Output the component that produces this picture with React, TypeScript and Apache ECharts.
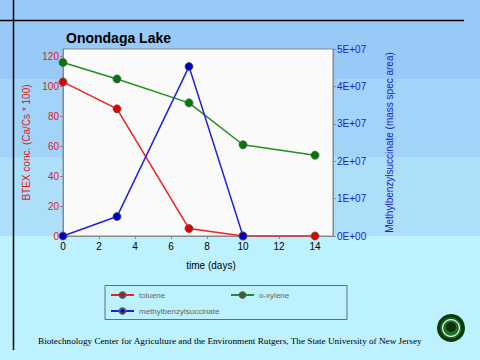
import React, { useEffect, useRef } from "react";
import * as echarts from "echarts";

const days = [0, 3, 7, 10, 14];
const toluene = [103, 85, 5, 0, 0];
const oXylene = [116, 105, 89, 61, 54];
const mbsDays = [0, 3, 7, 10];
const mbs = [0, 5.2e6, 4.53e7, 0];
const footer =
  "Biotechnology Center for Agriculture and the Environment Rutgers, The State University of New Jersey";

const pairs = (xs: number[], ys: number[]) => xs.map((x, i) => [x, ys[i]]);

export default function App() {
  const ref = useRef<HTMLDivElement>(null);
  useEffect(() => {
    if (!ref.current) return;
    const chart = echarts.init(ref.current, null, { renderer: "svg" });
    const font = "Arial, 'Liberation Sans', sans-serif";
    const mk = (name: string, data: any[], line: string, fill: string, yi: number) => ({
      name,
      type: "line",
      yAxisIndex: yi,
      data,
      symbol: "circle",
      symbolSize: 8,
      lineStyle: { color: line, width: 1.5 },
      itemStyle: { color: fill, borderColor: "#555", borderWidth: 0.8 },
      z: 3,
    });
    const legendBase = {
      itemWidth: 23,
      itemHeight: 7,
      textStyle: { fontSize: 8, color: "#666", fontFamily: font },
      padding: 0,
      itemGap: 7,
    };
    chart.setOption({
      animation: false,
      backgroundColor: "transparent",
      title: {
        text: "Onondaga Lake",
        left: 66,
        top: 31,
        padding: 0,
        textStyle: { fontSize: 14, fontWeight: "bold", color: "#000", fontFamily: font },
      },
      grid: { left: 63, right: 147, top: 49, bottom: 124, show: true, backgroundColor: "#fafafa", borderColor: "#888", borderWidth: 1 },
      legend: [
        { ...legendBase, data: ["toluene"], left: 110, top: 291 },
        { ...legendBase, data: ["o-xylene"], left: 230, top: 291 },
        { ...legendBase, data: ["methylbenzylsuccinate"], left: 110, top: 307 },
      ],
      xAxis: {
        type: "value",
        min: 0,
        max: 15,
        interval: 2,
        name: "time (days)",
        nameLocation: "middle",
        nameGap: 24,
        nameTextStyle: { fontSize: 10, color: "#000", fontFamily: font, padding: [0, 0, 0, 26] },
        axisLine: { lineStyle: { color: "#888" } },
        axisTick: { length: 3, lineStyle: { color: "#888" } },
        axisLabel: { fontSize: 10, color: "#000", fontFamily: font, margin: 5, showMaxLabel: false },
        splitLine: { show: false },
      },
      yAxis: [
        {
          type: "value",
          min: 0,
          max: 125,
          interval: 20,
          name: "BTEX conc. (Ca/Cs * 100)",
          nameLocation: "middle",
          nameRotate: 90,
          nameGap: 27,
          nameTextStyle: { fontSize: 10, color: "#e02020", fontFamily: font },
          axisLine: { show: true, lineStyle: { color: "#888" } },
          axisTick: { show: true, length: 3, lineStyle: { color: "#888" } },
          axisLabel: { fontSize: 10, color: "#e02020", fontFamily: font, margin: 4, showMaxLabel: false },
          splitLine: { show: false },
        },
        {
          type: "value",
          min: 0,
          max: 5e7,
          interval: 1e7,
          position: "right",
          name: "Methylbenzylsuccinate (mass spec area)",
          nameLocation: "middle",
          nameRotate: 90,
          nameGap: 51,
          nameTextStyle: { fontSize: 10, color: "#2020d0", fontFamily: font },
          axisLine: { show: true, lineStyle: { color: "#888" } },
          axisTick: { show: true, length: 3, lineStyle: { color: "#888" } },
          axisLabel: {
            fontSize: 10,
            color: "#2020d0",
            fontFamily: font,
            margin: 4,
            formatter: (v: number) => (v === 0 ? "0E+00" : `${Math.round(v / 1e7)}E+07`),
          },
          splitLine: { show: false },
        },
      ],
      graphic: [
        { type: "rect", z: -10, shape: { x: 0, y: 0, width: 480, height: 79 }, style: { fill: "#99c9f6" }, silent: true },
        { type: "rect", z: -10, shape: { x: 0, y: 79, width: 480, height: 78 }, style: { fill: "#a2d3f8" }, silent: true },
        { type: "rect", z: -10, shape: { x: 0, y: 157, width: 480, height: 79 }, style: { fill: "#addffb" }, silent: true },
        { type: "rect", z: -10, shape: { x: 0, y: 236, width: 480, height: 124 }, style: { fill: "#bdf1fd" }, silent: true },
        { type: "line", z: 1, shape: { x1: 0, y1: 20.5, x2: 464, y2: 20.5 }, style: { stroke: "#000", lineWidth: 1.5 } },
        { type: "line", z: 1, shape: { x1: 13.5, y1: 0, x2: 13.5, y2: 350 }, style: { stroke: "#000", lineWidth: 1.5 } },
        { type: "rect", z: 0, shape: { x: 105, y: 285.5, width: 242, height: 34 }, style: { fill: "none", stroke: "#607080", lineWidth: 1 } },
        {
          type: "text",
          left: 38,
          top: 336,
          style: { text: footer, fontSize: 9.2, fill: "#000", fontFamily: "'Liberation Serif', 'Times New Roman', serif" },
        },
        { type: "circle", shape: { cx: 451, cy: 328, r: 14 }, style: { fill: "#0a3a0a" } },
        { type: "circle", shape: { cx: 451, cy: 328, r: 10.5 }, style: { fill: "#1f6f2a" } },
        { type: "ring", shape: { cx: 451, cy: 328, r: 9, r0: 7.8 }, style: { fill: "#e8f0e8" } },
        { type: "circle", shape: { cx: 451, cy: 327, r: 5 }, style: { fill: "#103010" } },
      ],
      series: [
        mk("toluene", pairs(days, toluene), "#f02020", "#e00000", 0),
        mk("o-xylene", pairs(days, oXylene), "#209020", "#007a00", 0),
        mk("methylbenzylsuccinate", pairs(mbsDays, mbs), "#2020e0", "#0000c0", 1),
      ],
    });
    return () => chart.dispose();
  }, []);
  return <div ref={ref} style={{ width: 480, height: 360, position: "absolute", left: 0, top: 0 }} />;
}
